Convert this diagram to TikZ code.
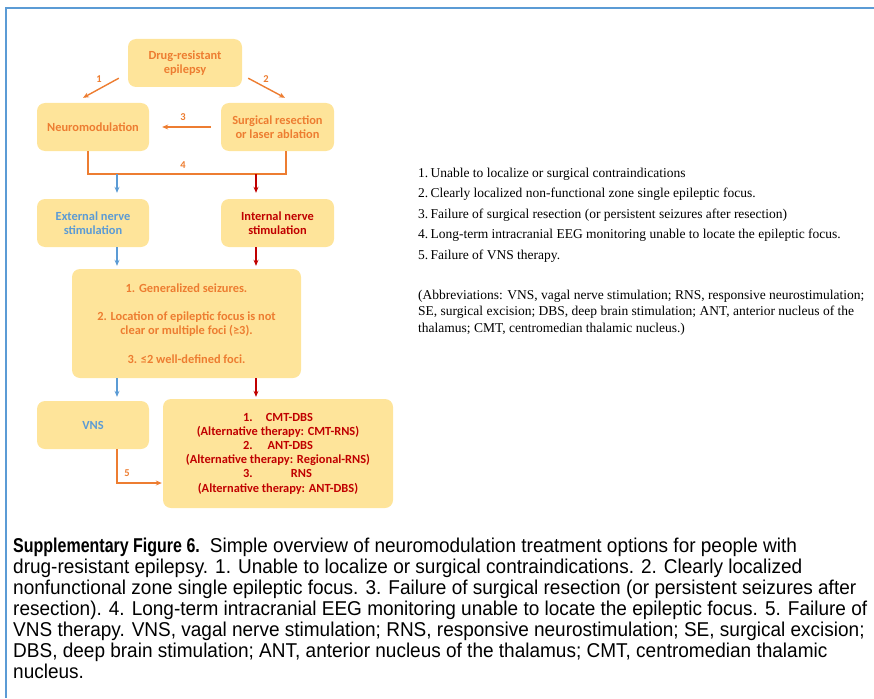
\documentclass[tikz,border=0pt]{standalone}
\usepackage{fontspec}
\setmainfont{Liberation Serif}
\newfontfamily\cb{Carlito}
\newfontfamily\capfont[FakeStretch=0.95]{Liberation Sans}
\newfontfamily\capbold[FakeStretch=0.8]{Liberation Sans}
\usetikzlibrary{arrows.meta,calc}
\definecolor{boxfill}{HTML}{FEE49A}
\definecolor{orn}{HTML}{ED7D31}
\definecolor{blu}{HTML}{5B9BD5}
\definecolor{rd}{HTML}{C00000}
\definecolor{framec}{HTML}{5B9BD5}
\begin{document}
\begin{tikzpicture}[x=1pt,y=-1pt,
  box/.style={fill=boxfill, rounded corners=8pt, align=center, inner sep=0pt,
    font=\cb\bfseries\fontsize{12.4}{14.2}\selectfont},
  lbl/.style={text=orn, font=\cb\bfseries\fontsize{10.5}{11}\selectfont, inner sep=0pt},
  oline/.style={draw=orn, line width=1.4pt},
  oarr/.style={oline, -{Stealth[length=6pt,width=5pt]}},
  barr/.style={draw=blu, line width=1.4pt, -{Stealth[length=6pt,width=5pt]}},
  rarr/.style={draw=rd, line width=1.4pt, -{Stealth[length=6pt,width=5pt]}},
  note/.style={anchor=base west, inner sep=0pt, font=\fontsize{13.5}{15}\selectfont},
  capl/.style={anchor=base west, inner sep=0pt, font=\capfont\fontsize{20}{21}\selectfont}
]
\useasboundingbox (0,0) rectangle (874,698);
\draw[framec, line width=2.5pt] (874,8) -- (6,8) -- (6,698);

% boxes
\node[box, minimum width=114pt, minimum height=48pt, text=orn] (drug) at (185,63) {Drug-resistant\\epilepsy};
\node[box, minimum width=112pt, minimum height=48pt, text=orn] (neuro) at (93,127) {Neuromodulation};
\node[box, minimum width=113pt, minimum height=48pt, text=orn] (surg) at (277.5,127) {Surgical resection\\or laser ablation};
\node[box, minimum width=112pt, minimum height=48pt, text=blu] (ext) at (93,223) {External nerve\\stimulation};
\node[box, minimum width=113pt, minimum height=48pt, text=rd] (int) at (277.5,223) {Internal nerve\\stimulation};
\node[box, minimum width=229pt, minimum height=109pt, text=orn] (gen) at (186.5,323.5)
  {1. Generalized seizures.\\[14pt]2. Location of epileptic focus is not\\clear or multiple foci (≥3).\\[14pt]3. ≤2 well-defined foci.};
\node[box, minimum width=112pt, minimum height=48pt, text=blu] (vns) at (93,425) {VNS};
\node[box, minimum width=230pt, minimum height=109pt, text=rd] (res) at (278,453.5)
  {\hbox to 70pt{1.\hfill CMT-DBS}\\(Alternative therapy: CMT-RNS)\\
   \hbox to 70pt{2.\hfill ANT-DBS}\\(Alternative therapy: Regional-RNS)\\
   \hbox to 70pt{3.\hfill RNS\hspace{1pt}}\\(Alternative therapy: ANT-DBS)};

% arrows 1, 2, 3
\draw[oarr] ($(drug.south west)+(-9,-9)$) -- ($(neuro.north)+(-10,-5)$);
\draw[oarr] ($(drug.south east)+(6,-9)$) -- ($(surg.north)+(7.5,-5)$);
\draw[oarr, shorten <=10pt, shorten >=13pt] (surg.west) -- (neuro.east);
\node[lbl] (l1) at (99,79) {1};
\node[lbl] (l2) at (266,79) {2};
\node[lbl] (l3) at (183,117) {3};

% bracket 4
\coordinate (j4l) at (88,174);
\coordinate (j4r) at (286,174);
\coordinate (jb) at (117,174);
\coordinate (jr) at (256,174);
\draw[oline] (neuro.south -| j4l) -- (j4l) -- (j4r) -- (surg.south -| j4r);
\node[lbl] (l4) at (183,165) {4};
\draw[barr, shorten >=6pt] (jb) -- (jb |- ext.north);
\draw[rarr, shorten >=6pt] (jr) -- (jr |- int.north);
\draw[barr, shorten >=3pt] (ext.south -| jb) -- (gen.north -| jb);
\draw[rarr, shorten >=3pt] (int.south -| jr) -- (gen.north -| jr);
\draw[barr, shorten >=4pt] (gen.south -| jb) -- (vns.north -| jb);
\draw[rarr, shorten >=2pt] (gen.south -| jr) -- (res.north -| jr);

% arrow 5
\coordinate (c5) at (117,483);
\draw[oarr, shorten >=1pt] (vns.south -| jb) -- (c5) -- (res.west |- c5);
\node[lbl] (l5) at (127,473) {5};

% notes
\node[note] (n1) at (418,177) {1.\,Unable to localize or surgical contraindications};
\node[note] (n2) at (418,197.5) {2.\,Clearly localized non-functional zone single epileptic focus.};
\node[note] (n3) at (418,218) {3.\,Failure of surgical resection (or persistent seizures after resection)};
\node[note] (n4) at (418,238.5) {4.\,Long-term intracranial EEG monitoring unable to locate the epileptic focus.};
\node[note] (n5) at (418,259) {5.\,Failure of VNS therapy.};
\node[note] (a1) at (418,299) {(Abbreviations: VNS, vagal nerve stimulation; RNS, responsive neurostimulation;};
\node[note] (a2) at (418,315.5) {SE, surgical excision; DBS, deep brain stimulation; ANT, anterior nucleus of the};
\node[note] (a3) at (418,332) {thalamus; CMT, centromedian thalamic nucleus.)};

% caption
\node[capl] (c1) at (13,552) {{\capbold\bfseries Supplementary Figure 6.}\hspace{10pt}Simple overview of neuromodulation treatment options for people with};
\node[capl] (c2) at (13,573) {drug-resistant epilepsy. 1. Unable to localize or surgical contraindications. 2. Clearly localized};
\node[capl] (c3) at (13,594) {nonfunctional zone single epileptic focus. 3. Failure of surgical resection (or persistent seizures after};
\node[capl] (c4) at (13,615) {resection). 4. Long-term intracranial EEG monitoring unable to locate the epileptic focus. 5. Failure of};
\node[capl] (c5) at (13,636) {VNS therapy. VNS, vagal nerve stimulation; RNS, responsive neurostimulation; SE, surgical excision;};
\node[capl] (c6) at (13,657) {DBS, deep brain stimulation; ANT, anterior nucleus of the thalamus; CMT, centromedian thalamic};
\node[capl] (c7) at (13,678) {nucleus.};
\end{tikzpicture}
\end{document}
